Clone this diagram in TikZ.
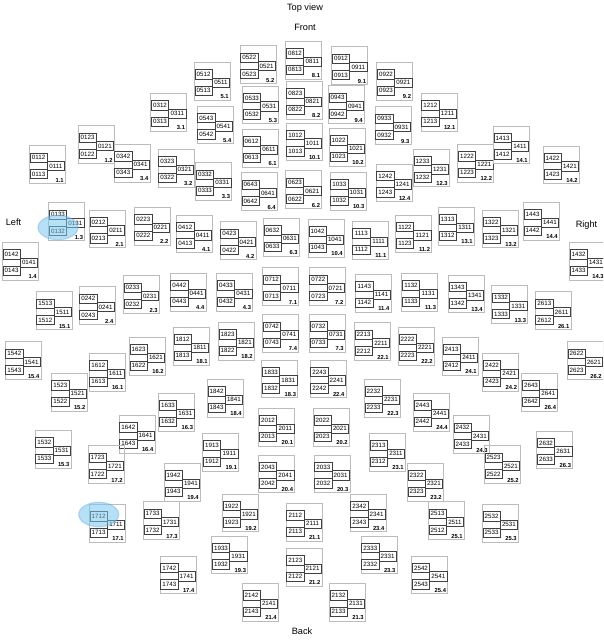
\documentclass[tikz,border=0pt]{standalone}
\usepackage{fontspec}
\setmainfont{Liberation Sans}
\usepackage{tikz}
\usetikzlibrary{shapes.geometric}
\definecolor{grpgray}{RGB}{188,188,188}
\definecolor{hlblue}{RGB}{120,198,236}

\newcommand{\sensgrp}[7]{%
\node[grp_box] (grp_#6_#7) at (#1+18,#2+18.8) {};
\node[cell_box,anchor=north west] (c_#3) at (#1+0.4,#2+7) {#3};
\node[cell_box,anchor=north west] (c_#4) at (#1+17.7,#2+15.4) {#4};
\node[cell_box,anchor=north west] (c_#5) at (#1+0.4,#2+23.3) {#5};
\node[grp_lbl,anchor=base east] (lbl_#6_#7) at (#1+34.5,#2+36.3) {#6.#7};
}

\begin{document}
\begin{tikzpicture}[x=1pt,y=-1pt,
  grp_box/.style={draw=grpgray,line width=0.8pt,minimum width=36pt,minimum height=37.6pt,inner sep=0pt},
  cell_box/.style={draw=black!75,line width=0.55pt,minimum width=17.3pt,minimum height=9.3pt,inner sep=0pt,font=\fontsize{6.2pt}{6.2pt}\selectfont},
  grp_lbl/.style={inner sep=0pt,font=\bfseries\fontsize{5.8pt}{6pt}\selectfont},
  side_lbl/.style={anchor=base,inner sep=0pt,font=\fontsize{9.2pt}{11pt}\selectfont},
  hl_mark/.style={ellipse,fill=hlblue,fill opacity=0.55,draw=hlblue!80!blue,draw opacity=0.35,line width=1.2pt,minimum width=40pt,minimum height=24.5pt,inner sep=0pt}]
\useasboundingbox (0,0) rectangle (603,640);
\clip (0,0) rectangle (603,640);
\node[side_lbl] (t_top) at (305,10.7) {Top view};
\node[side_lbl] (t_front) at (305,30) {Front};
\node[side_lbl] (t_left) at (13.5,225.7) {Left};
\node[side_lbl] (t_right) at (586.5,227.7) {Right};
\node[side_lbl] (t_back) at (302,634.3) {Back};
\sensgrp{29.3}{145.7}{0112}{0111}{0113}{1}{1}
\sensgrp{78.3}{125.7}{0123}{0121}{0122}{1}{2}
\sensgrp{48.7}{202.7}{0133}{0131}{0132}{1}{3}
\sensgrp{2.3}{242.3}{0142}{0141}{0143}{1}{4}
\sensgrp{89.3}{210}{0212}{0211}{0213}{2}{1}
\sensgrp{134}{207.3}{0223}{0221}{0222}{2}{2}
\sensgrp{123.3}{275.7}{0233}{0231}{0232}{2}{3}
\sensgrp{79}{286.7}{0242}{0241}{0243}{2}{4}
\sensgrp{150.7}{93.3}{0312}{0311}{0313}{3}{1}
\sensgrp{158}{149.3}{0323}{0321}{0322}{3}{2}
\sensgrp{195.7}{162.5}{0332}{0331}{0333}{3}{3}
\sensgrp{114}{144.3}{0342}{0341}{0343}{3}{4}
\sensgrp{176}{215}{0412}{0411}{0413}{4}{1}
\sensgrp{220}{221.7}{0423}{0421}{0422}{4}{2}
\sensgrp{216.7}{273.3}{0433}{0431}{0432}{4}{3}
\sensgrp{170}{273.3}{0442}{0441}{0443}{4}{4}
\sensgrp{194.3}{62.3}{0512}{0511}{0513}{5}{1}
\sensgrp{240}{45.7}{0522}{0521}{0523}{5}{2}
\sensgrp{242.7}{86}{0533}{0531}{0532}{5}{3}
\sensgrp{197}{106}{0543}{0541}{0542}{5}{4}
\sensgrp{242.3}{129.3}{0612}{0611}{0613}{6}{1}
\sensgrp{285.7}{170.7}{0623}{0621}{0622}{6}{2}
\sensgrp{263.3}{218.3}{0632}{0631}{0633}{6}{3}
\sensgrp{241.3}{172.7}{0643}{0641}{0642}{6}{4}
\sensgrp{262.7}{267.7}{0712}{0711}{0713}{7}{1}
\sensgrp{309}{267.7}{0722}{0721}{0723}{7}{2}
\sensgrp{309.3}{314.3}{0732}{0731}{0733}{7}{3}
\sensgrp{262.7}{314.5}{0742}{0741}{0743}{7}{4}
\sensgrp{285.7}{41.3}{0812}{0811}{0813}{8}{1}
\sensgrp{286}{81.3}{0823}{0821}{0822}{8}{2}
\sensgrp{331.7}{46.7}{0912}{0911}{0913}{9}{1}
\sensgrp{376.7}{62.3}{0922}{0921}{0923}{9}{2}
\sensgrp{375}{106.7}{0933}{0931}{0932}{9}{3}
\sensgrp{328.3}{85.7}{0943}{0941}{0942}{9}{4}
\sensgrp{286}{123}{1012}{1011}{1013}{10}{1}
\sensgrp{329.3}{128.3}{1022}{1021}{1023}{10}{2}
\sensgrp{330}{172.3}{1033}{1031}{1032}{10}{3}
\sensgrp{308.3}{219.3}{1042}{1041}{1043}{10}{4}
\sensgrp{352}{221.3}{1113}{1111}{1112}{11}{1}
\sensgrp{395.7}{215}{1122}{1121}{1123}{11}{2}
\sensgrp{401.7}{273.3}{1132}{1131}{1133}{11}{3}
\sensgrp{355}{274.3}{1143}{1141}{1142}{11}{4}
\sensgrp{421}{93.3}{1212}{1211}{1213}{12}{1}
\sensgrp{457.7}{144.3}{1222}{1221}{1223}{12}{2}
\sensgrp{413.3}{149}{1233}{1231}{1232}{12}{3}
\sensgrp{376}{164}{1242}{1241}{1243}{12}{4}
\sensgrp{438.3}{207.3}{1313}{1311}{1312}{13}{1}
\sensgrp{482.3}{210}{1322}{1321}{1323}{13}{2}
\sensgrp{491.7}{285.7}{1332}{1331}{1333}{13}{3}
\sensgrp{448.3}{275}{1343}{1341}{1342}{13}{4}
\sensgrp{493.3}{126}{1413}{1411}{1412}{14}{1}
\sensgrp{543.3}{146}{1422}{1421}{1423}{14}{2}
\sensgrp{569.3}{242.3}{1432}{1431}{1433}{14}{3}
\sensgrp{523.3}{202.3}{1443}{1441}{1442}{14}{4}
\sensgrp{36}{291.7}{1513}{1511}{1512}{15}{1}
\sensgrp{51}{373.3}{1523}{1521}{1522}{15}{2}
\sensgrp{35}{430.3}{1532}{1531}{1533}{15}{3}
\sensgrp{5}{341.7}{1542}{1541}{1543}{15}{4}
\sensgrp{89}{353.3}{1612}{1611}{1613}{16}{1}
\sensgrp{129.3}{337.3}{1623}{1621}{1622}{16}{2}
\sensgrp{158.7}{393.3}{1633}{1631}{1632}{16}{3}
\sensgrp{119}{415.3}{1642}{1641}{1643}{16}{4}
\sensgrp{89.3}{504.3}{1712}{1711}{1713}{17}{1}
\sensgrp{88.3}{445.7}{1723}{1721}{1722}{17}{2}
\sensgrp{143.3}{501.7}{1733}{1731}{1732}{17}{3}
\sensgrp{160}{556}{1742}{1741}{1743}{17}{4}
\sensgrp{173.3}{327.3}{1812}{1811}{1813}{18}{1}
\sensgrp{218.3}{322.3}{1823}{1821}{1822}{18}{2}
\sensgrp{261.7}{360}{1833}{1831}{1832}{18}{3}
\sensgrp{207.3}{379.3}{1842}{1841}{1843}{18}{4}
\sensgrp{202.7}{433.3}{1913}{1911}{1912}{19}{1}
\sensgrp{222.3}{494}{1922}{1921}{1923}{19}{2}
\sensgrp{211.7}{536}{1933}{1931}{1932}{19}{3}
\sensgrp{164.3}{463.3}{1942}{1941}{1943}{19}{4}
\sensgrp{258.7}{408.3}{2012}{2011}{2013}{20}{1}
\sensgrp{313.3}{408.3}{2022}{2021}{2023}{20}{2}
\sensgrp{314}{455}{2033}{2031}{2032}{20}{3}
\sensgrp{258.7}{455}{2043}{2041}{2042}{20}{4}
\sensgrp{286}{503.3}{2112}{2111}{2113}{21}{1}
\sensgrp{286}{548.3}{2123}{2121}{2122}{21}{2}
\sensgrp{329.3}{583.3}{2132}{2131}{2133}{21}{3}
\sensgrp{242.3}{583.3}{2142}{2141}{2143}{21}{4}
\sensgrp{354.3}{322.7}{2213}{2211}{2212}{22}{1}
\sensgrp{398.3}{327.3}{2222}{2221}{2223}{22}{2}
\sensgrp{364.3}{379.3}{2232}{2231}{2233}{22}{3}
\sensgrp{310}{360}{2243}{2241}{2242}{22}{4}
\sensgrp{369.3}{433.3}{2313}{2311}{2312}{23}{1}
\sensgrp{407.3}{463.3}{2322}{2321}{2323}{23}{2}
\sensgrp{361}{536}{2333}{2331}{2332}{23}{3}
\sensgrp{350}{494}{2342}{2341}{2343}{23}{4}
\sensgrp{442.3}{337.3}{2413}{2411}{2412}{24}{1}
\sensgrp{482.7}{353.3}{2422}{2421}{2423}{24}{2}
\sensgrp{453.3}{415.7}{2432}{2431}{2433}{24}{3}
\sensgrp{413.3}{393.3}{2443}{2441}{2442}{24}{4}
\sensgrp{428.3}{501.7}{2513}{2511}{2512}{25}{1}
\sensgrp{484.3}{445.7}{2523}{2521}{2522}{25}{2}
\sensgrp{482.3}{504.3}{2532}{2531}{2533}{25}{3}
\sensgrp{411.7}{556}{2542}{2541}{2543}{25}{4}
\sensgrp{535}{291.7}{2613}{2611}{2612}{26}{1}
\sensgrp{567.3}{341.7}{2622}{2621}{2623}{26}{2}
\sensgrp{536.7}{431}{2632}{2631}{2633}{26}{3}
\sensgrp{521.7}{373.3}{2643}{2641}{2642}{26}{4}
\node[hl_mark] (hl_0132) at (58,227.5) {};
\node[hl_mark] (hl_1712) at (98.7,514.5) {};
\end{tikzpicture}
\end{document}
